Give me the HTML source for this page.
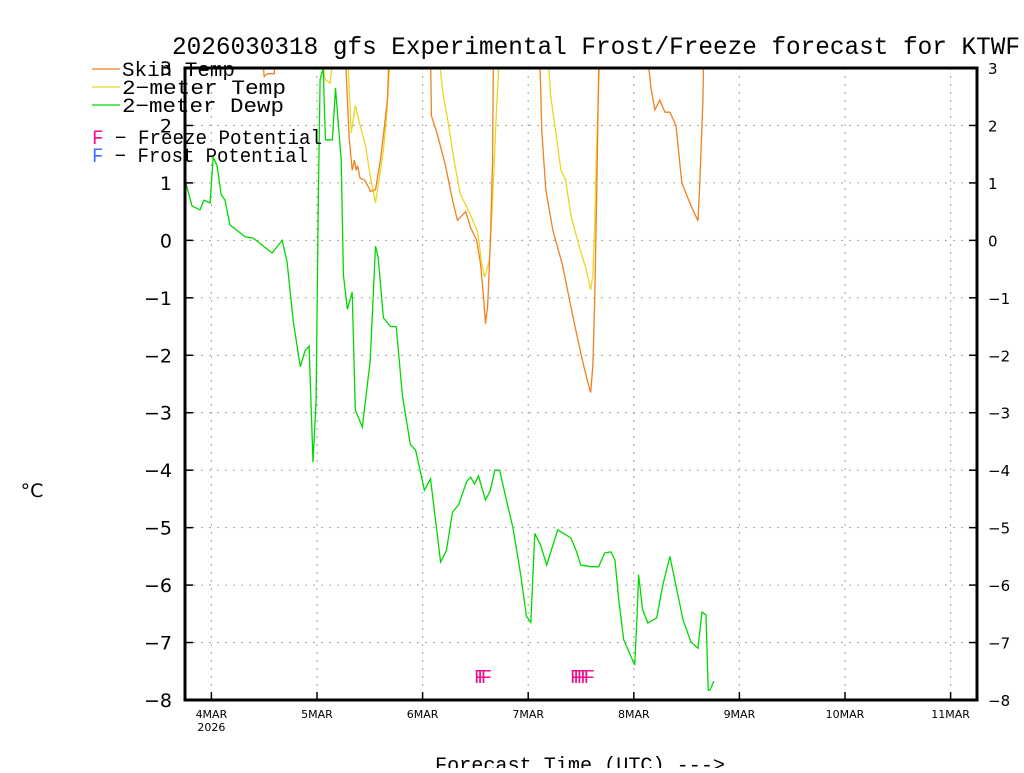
<!DOCTYPE html>
<html><head><meta charset="utf-8"><style>
body{margin:0;background:#fff;}
svg text{font-family:"DejaVu Sans","Liberation Sans",sans-serif;}
svg text.mono{font-family:"Liberation Mono","DejaVu Sans Mono",monospace;}
</style></head><body>
<svg id="chart" width="1024" height="768" viewBox="0 0 1024 768" xmlns="http://www.w3.org/2000/svg">
<defs><clipPath id="plotclip"><rect x="185" y="68" width="792" height="632"/></clipPath></defs>
<text class="mono" x="596" y="54" text-anchor="middle" font-size="25" textLength="848" lengthAdjust="spacingAndGlyphs" fill="#000">2026030318 gfs Experimental Frost/Freeze forecast for KTWF</text>
<g id="grid"></g>
<g id="series" clip-path="url(#plotclip)"></g>
<g id="axes"></g>
<g>
<line x1="92" y1="69" x2="120" y2="69" stroke="#f08020" stroke-width="1.2"/>
<text class="mono" x="122" y="76" font-size="20" textLength="113" lengthAdjust="spacingAndGlyphs">Skin Temp</text>
<line x1="92" y1="87" x2="120" y2="87" stroke="#e8d820" stroke-width="1.2"/>
<text class="mono" x="122" y="94" font-size="20" textLength="164" lengthAdjust="spacingAndGlyphs">2−meter Temp</text>
<line x1="92" y1="105" x2="120" y2="105" stroke="#00d800" stroke-width="1.2"/>
<text class="mono" x="122" y="112" font-size="20" textLength="162" lengthAdjust="spacingAndGlyphs">2−meter Dewp</text>
<text class="mono" x="92" y="144" font-size="20" textLength="230" lengthAdjust="spacingAndGlyphs"><tspan fill="#f0108c">F</tspan> − Freeze Potential</text>
<text class="mono" x="92" y="162" font-size="20" textLength="216" lengthAdjust="spacingAndGlyphs"><tspan fill="#4070ff">F</tspan> − Frost Potential</text>
</g>
<text x="32" y="497" text-anchor="middle" font-size="19">°C</text>
<text class="mono" x="435" y="771" font-size="20" textLength="290" lengthAdjust="spacingAndGlyphs">Forecast Time (UTC) ---&gt;</text>
<text class="mono" x="474" y="683" font-size="19" fill="#f0108c" letter-spacing="-8">FFF</text>
<text class="mono" x="570" y="683" font-size="19" fill="#f0108c" letter-spacing="-8">FFFFF</text>
</svg>
<script>
// hours since 2026-03-03 18Z
const dewHours=[0,1.6,3.4,4.3,5.7,6.4,7.3,8.2,9.1,10.2,13.7,15.5,19.8,22.1,23.2,24.6,26.2,27.3,28.2,29.1,29.8,30.3,30.7,31.4,31.9,33.5,34.2,35.5,36.0,36.9,38.0,38.7,40.3,42.1,43.3,43.9,45.1,46.7,48.0,49.4,51.2,52.4,54.4,55.8,58.1,59.4,60.8,62.2,64.0,64.9,65.8,66.7,68.3,69.4,70.4,71.5,73.3,74.5,76.3,77.6,78.6,79.5,80.8,82.2,84.7,87.7,89.0,89.9,92.2,94.0,95.4,96.8,97.7,98.6,99.7,102.2,102.7,103.1,104.0,105.2,107.2,108.6,110.2,111.8,113.2,115.0,116.6,117.5,118.4,118.9,119.3,120.2];
const dewValues=[1.05,0.6,0.53,0.7,0.65,1.45,1.3,0.8,0.7,0.27,0.06,0.04,-0.22,0.0,-0.38,-1.4,-2.2,-1.92,-1.84,-3.86,-2.78,0.7,2.8,3.0,1.75,1.75,2.65,1.4,-0.6,-1.2,-0.9,-2.95,-3.25,-2.1,-0.1,-0.3,-1.35,-1.5,-1.5,-2.7,-3.55,-3.65,-4.35,-4.15,-5.6,-5.4,-4.73,-4.6,-4.2,-4.12,-4.24,-4.1,-4.52,-4.35,-4.0,-4.0,-4.6,-4.99,-5.82,-6.54,-6.65,-5.1,-5.3,-5.65,-5.04,-5.18,-5.42,-5.65,-5.68,-5.68,-5.44,-5.42,-5.56,-6.26,-6.95,-7.39,-6.6,-5.82,-6.43,-6.66,-6.57,-6.0,-5.5,-6.09,-6.61,-6.99,-7.1,-6.47,-6.52,-7.83,-7.83,-7.67];
const skinHours=[17.5,18.0,18.7,20.3,20.5,36.4,37.3,38.0,38.5,38.9,39.2,39.8,40.8,41.9,42.1,43.3,44.4,45.1,46.0,46.4,55.8,56.0,57.4,59.2,60.8,61.9,63.8,64.9,66.3,67.2,67.9,68.3,68.8,69.4,69.9,70.1,80.6,81.1,82.0,83.6,85.8,88.1,89.9,91.3,92.2,92.7,93.1,93.6,94.1,105.0,105.9,106.8,107.9,109.1,110.2,111.6,112.9,115.0,116.6,117.0,117.7,117.9];
const skinValues=[3.3,2.85,2.9,2.9,3.3,3.3,1.8,1.22,1.4,1.22,1.3,1.08,1.05,0.9,0.85,0.88,1.4,1.83,2.44,3.3,3.3,2.17,1.83,1.3,0.7,0.35,0.5,0.22,0.0,-0.43,-1.05,-1.45,-1.13,0.0,1.4,3.3,3.3,1.9,0.88,0.18,-0.43,-1.3,-1.95,-2.4,-2.65,-2.16,-1.12,0.88,3.3,3.3,2.65,2.27,2.44,2.23,2.23,2.0,1.0,0.6,0.34,1.0,2.44,3.3];
const t2Hours=[30.7,31.9,33.0,33.7,36.9,37.8,38.7,39.8,41.0,42.1,43.3,43.9,45.1,45.8,46.7,57.6,58.5,59.9,61.2,62.6,63.8,64.9,66.5,67.4,68.1,69.2,69.9,70.8,71.5,82.4,83.1,84.2,85.4,86.5,87.7,89.5,91.1,92.2,92.7,93.1,93.6,94.3];
const t2Values=[3.3,2.79,2.74,3.3,3.3,1.87,2.35,2.0,1.66,1.13,0.65,0.96,1.57,2.13,3.3,3.3,2.62,2.01,1.37,0.8,0.62,0.44,0.15,-0.38,-0.64,-0.34,0.7,2.27,3.3,3.3,2.53,1.92,1.23,1.05,0.44,-0.08,-0.48,-0.86,-0.6,0.18,1.75,3.3];
const yTicks=[-8,-7,-6,-5,-4,-3,-2,-1,0,1,2,3];
const dayLabels=["4MAR","5MAR","6MAR","7MAR","8MAR","9MAR","10MAR","11MAR"];
const dayHours=[6,30,54,78,102,126,150,174];

const X0=185,X1=977,Y0=68,Y1=700,HMAX=180,VMIN=-8,VMAX=3;
const xs=h=>X0+(X1-X0)*h/HMAX;
const ys=v=>Y1-(Y1-Y0)*(v-VMIN)/(VMAX-VMIN);
const NS="http://www.w3.org/2000/svg";
function mk(tag,parent){const e=document.createElementNS(NS,tag);parent.appendChild(e);return e;}
const grid=document.getElementById('grid'),axes=document.getElementById('axes'),series=document.getElementById('series');
yTicks.forEach(v=>{
  const y=ys(v);
  if(v>VMIN&&v<VMAX){const l=mk('line',grid);
  
  
  l.setAttribute('x1',X0);l.setAttribute('x2',X1);l.setAttribute('y1',y);l.setAttribute('y2',y);
  l.setAttribute('stroke','#a0a0a0');l.setAttribute('stroke-dasharray','2,6');}
  const t=mk('text',axes);
  
  
  t.setAttribute('x',172);t.setAttribute('y',y+7);t.setAttribute('text-anchor','end');t.setAttribute('font-size','19');
  t.textContent=v<0?'−'+Math.abs(v):v;
  const t2=mk('text',axes);
  
  
  t2.setAttribute('x',988);t2.setAttribute('y',y+6);t2.setAttribute('font-size','15');
  t2.textContent=v<0?'−'+Math.abs(v):v;
  [[X0,X0+8],[X1-8,X1]].forEach(p=>{const k=mk('line',axes);
  
  
  k.setAttribute('x1',p[0]);k.setAttribute('x2',p[1]);k.setAttribute('y1',y);k.setAttribute('y2',y);k.setAttribute('stroke','#000');k.setAttribute('stroke-width','1.5');});
});
dayHours.forEach((h,i)=>{
  const x=xs(h);
  const l=mk('line',grid);
  
  
  l.setAttribute('x1',x);l.setAttribute('x2',x);l.setAttribute('y1',Y0);l.setAttribute('y2',Y1);
  l.setAttribute('stroke','#a0a0a0');l.setAttribute('stroke-dasharray','2,6');
  const k=mk('line',axes);
  
  
  k.setAttribute('x1',x);k.setAttribute('x2',x);k.setAttribute('y1',Y1-8);k.setAttribute('y2',Y1);k.setAttribute('stroke','#000');k.setAttribute('stroke-width','1.5');
  const t=mk('text',axes);
  
  
  t.setAttribute('x',x);t.setAttribute('y',718);t.setAttribute('text-anchor','middle');t.setAttribute('font-size','11');
  t.textContent=dayLabels[i];
});
const yr=mk('text',axes);


yr.setAttribute('x',xs(dayHours[0]));yr.setAttribute('y',731);yr.setAttribute('text-anchor','middle');yr.setAttribute('font-size','11');yr.textContent='2026';
const fr=mk('rect',axes);


fr.setAttribute('x',X0);fr.setAttribute('y',Y0);fr.setAttribute('width',X1-X0);fr.setAttribute('height',Y1-Y0);
fr.setAttribute('fill','none');fr.setAttribute('stroke','#000');fr.setAttribute('stroke-width','3');
function line(hs,vs,color,name){
  const p=mk('polyline',series);
  
  
  p.setAttribute('points',hs.map((h,i)=>xs(h).toFixed(1)+','+ys(vs[i]).toFixed(1)).join(' '));
  p.setAttribute('fill','none');p.setAttribute('stroke',color);p.setAttribute('stroke-width','1.3');
}
line(t2Hours,t2Values,'#e8d820','two-meter-temp-line');
line(skinHours,skinValues,'#f08020','skin-temp-line');
line(dewHours,dewValues,'#00d800','dewpoint-line');
</script>
</body></html>
